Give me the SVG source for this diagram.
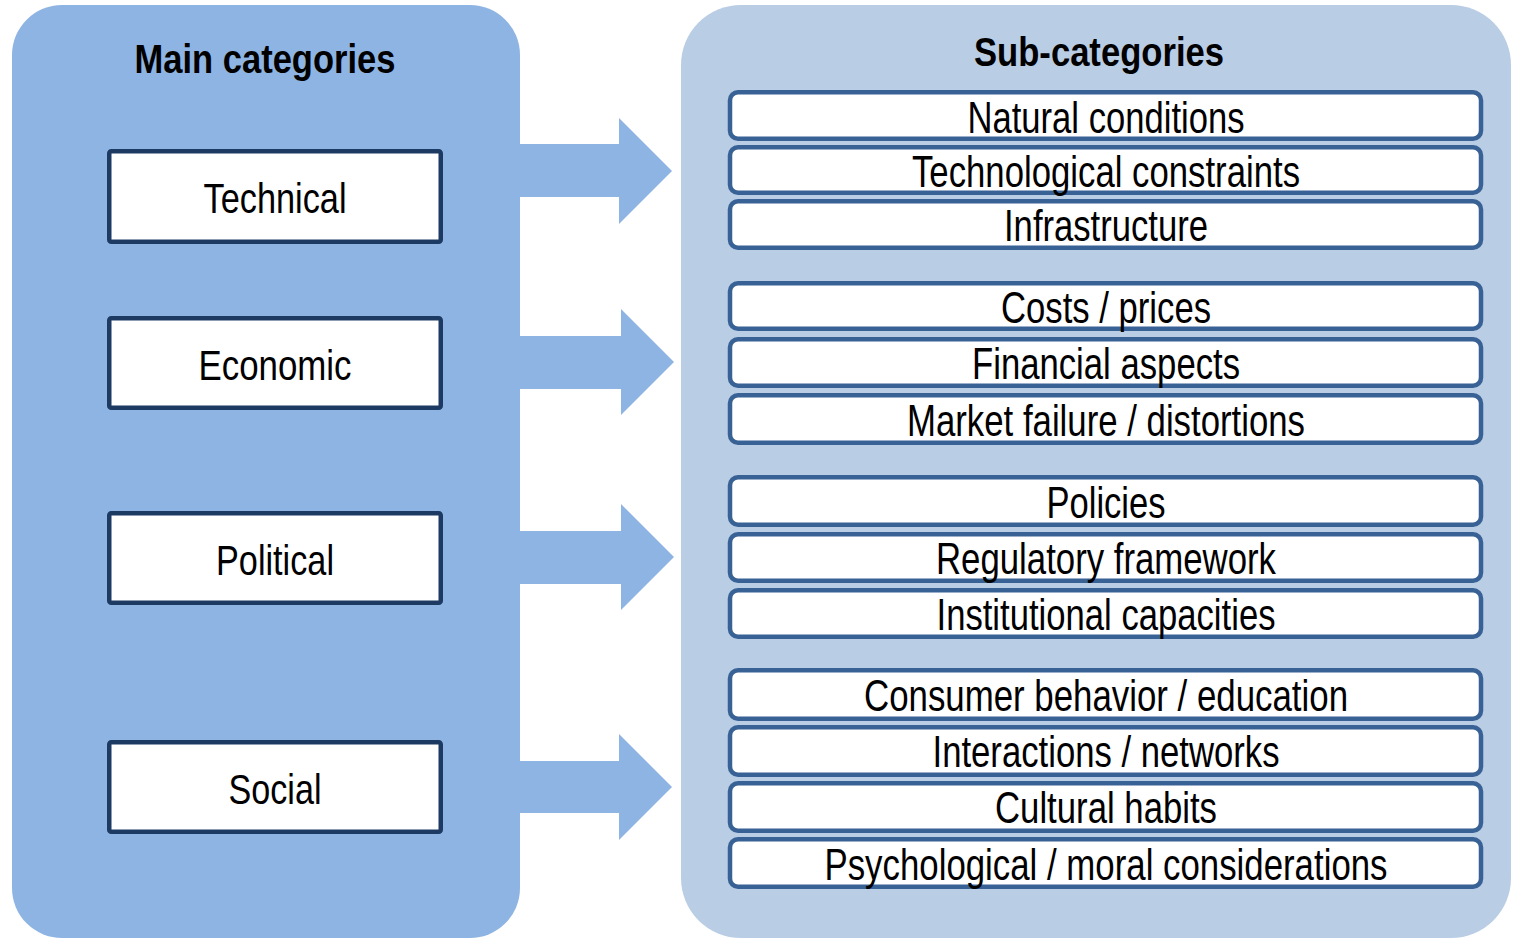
<svg xmlns="http://www.w3.org/2000/svg" width="1513" height="938" viewBox="0 0 1513 938">
  <style>
    .panelL { fill: #8eb4e3; }
    .panelR { fill: #b9cde5; }
    .arrow { fill: #8eb4e3; }
    .main { fill: #ffffff; stroke: #1c3a62; stroke-width: 4.5; }
    .sub { fill: #ffffff; stroke: #386195; stroke-width: 4.5; }
    text { font-family: "Liberation Sans Narrow", "Arial Narrow", "Liberation Sans", Arial, sans-serif; fill: #000000; text-anchor: middle; }
    .hdr { font-size: 41px; font-weight: bold; }
    .lbl { font-size: 43px; }
    .sl { font-size: 44px; }
  </style>
  <rect width="1513" height="938" fill="#ffffff"/>
  <g id="panel-main">
    <rect class="panelL" x="12" y="5" width="508" height="933" rx="50" ry="50"/>
    <text class="hdr" x="265" y="73" textLength="261" lengthAdjust="spacingAndGlyphs">Main categories</text>
  </g>
  <g id="panel-sub">
    <rect class="panelR" x="681" y="5" width="830" height="933" rx="60" ry="60"/>
    <text class="hdr" x="1099" y="66" textLength="250" lengthAdjust="spacingAndGlyphs">Sub-categories</text>
  </g>
  <g id="connectors">
    <polygon class="arrow" points="520,144 619,144 619,118 672,171 619,224 619,197 520,197"/>
    <polygon class="arrow" points="520,336 621,336 621,309 674,362 621,415 621,389 520,389"/>
    <polygon class="arrow" points="520,531 621,531 621,504 674,557 621,610 621,584 520,584"/>
    <polygon class="arrow" points="520,761 619,761 619,734 672,787 619,840 619,813 520,813"/>
  </g>
  <g id="node-technical">
    <rect class="main" x="109.25" y="151.25" width="331.5" height="90.5" rx="2"/>
    <text class="lbl" x="275" y="213" textLength="143" lengthAdjust="spacingAndGlyphs">Technical</text>
  </g>
  <g id="node-economic">
    <rect class="main" x="109.25" y="318.25" width="331.5" height="89.5" rx="2"/>
    <text class="lbl" x="275" y="380" textLength="153" lengthAdjust="spacingAndGlyphs">Economic</text>
  </g>
  <g id="node-political">
    <rect class="main" x="109.25" y="513.25" width="331.5" height="89.5" rx="2"/>
    <text class="lbl" x="275" y="575" textLength="118" lengthAdjust="spacingAndGlyphs">Political</text>
  </g>
  <g id="node-social">
    <rect class="main" x="109.25" y="742.25" width="331.5" height="89.5" rx="2"/>
    <text class="lbl" x="275" y="804" textLength="93" lengthAdjust="spacingAndGlyphs">Social</text>
  </g>
  <g id="sub-natural">
    <rect class="sub" x="730" y="92.25" width="751" height="46.5" rx="8"/>
    <text class="sl" x="1106" y="133" textLength="277" lengthAdjust="spacingAndGlyphs">Natural conditions</text>
  </g>
  <g id="sub-technological">
    <rect class="sub" x="730" y="147.25" width="751" height="45.5" rx="8"/>
    <text class="sl" x="1106" y="187" textLength="388" lengthAdjust="spacingAndGlyphs">Technological constraints</text>
  </g>
  <g id="sub-infrastructure">
    <rect class="sub" x="730" y="201.25" width="751" height="46.5" rx="8"/>
    <text class="sl" x="1106" y="241" textLength="204" lengthAdjust="spacingAndGlyphs">Infrastructure</text>
  </g>
  <g id="sub-costs">
    <rect class="sub" x="730" y="283.25" width="751" height="45.5" rx="8"/>
    <text class="sl" x="1106" y="323" textLength="210" lengthAdjust="spacingAndGlyphs">Costs / prices</text>
  </g>
  <g id="sub-financial">
    <rect class="sub" x="730" y="339.25" width="751" height="46.5" rx="8"/>
    <text class="sl" x="1106" y="379" textLength="268" lengthAdjust="spacingAndGlyphs">Financial aspects</text>
  </g>
  <g id="sub-market">
    <rect class="sub" x="730" y="395.25" width="751" height="47.5" rx="8"/>
    <text class="sl" x="1106" y="436" textLength="398" lengthAdjust="spacingAndGlyphs">Market failure / distortions</text>
  </g>
  <g id="sub-policies">
    <rect class="sub" x="730" y="477.25" width="751" height="47.5" rx="8"/>
    <text class="sl" x="1106" y="518" textLength="119" lengthAdjust="spacingAndGlyphs">Policies</text>
  </g>
  <g id="sub-regulatory">
    <rect class="sub" x="730" y="534.25" width="751" height="46.5" rx="8"/>
    <text class="sl" x="1106" y="574" textLength="340" lengthAdjust="spacingAndGlyphs">Regulatory framework</text>
  </g>
  <g id="sub-institutional">
    <rect class="sub" x="730" y="590.25" width="751" height="46.5" rx="8"/>
    <text class="sl" x="1106" y="630" textLength="339" lengthAdjust="spacingAndGlyphs">Institutional capacities</text>
  </g>
  <g id="sub-consumer">
    <rect class="sub" x="730" y="670.25" width="751" height="48.5" rx="8"/>
    <text class="sl" x="1106" y="711" textLength="484" lengthAdjust="spacingAndGlyphs">Consumer behavior / education</text>
  </g>
  <g id="sub-interactions">
    <rect class="sub" x="730" y="727.25" width="751" height="47.5" rx="8"/>
    <text class="sl" x="1106" y="767" textLength="347" lengthAdjust="spacingAndGlyphs">Interactions / networks</text>
  </g>
  <g id="sub-cultural">
    <rect class="sub" x="730" y="783.25" width="751" height="47.5" rx="8"/>
    <text class="sl" x="1106" y="823" textLength="222" lengthAdjust="spacingAndGlyphs">Cultural habits</text>
  </g>
  <g id="sub-psychological">
    <rect class="sub" x="730" y="839.25" width="751" height="47.5" rx="8"/>
    <text class="sl" x="1106" y="880" textLength="563" lengthAdjust="spacingAndGlyphs">Psychological / moral considerations</text>
  </g>
</svg>
